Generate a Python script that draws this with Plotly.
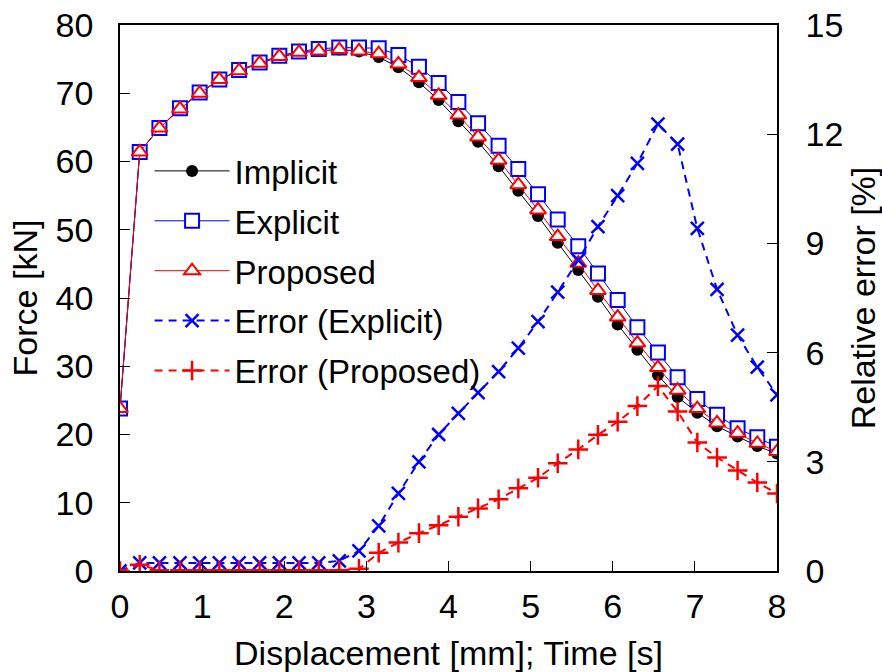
import plotly.graph_objects as go

# Displacement [mm]; Time [s]
x_vals = [0.00, 0.24, 0.48, 0.73, 0.97, 1.21, 1.45, 1.70, 1.94, 2.18, 2.42, 2.67,
          2.91, 3.15, 3.39, 3.64, 3.88, 4.12, 4.36, 4.61, 4.85, 5.09, 5.33, 5.58,
          5.82, 6.06, 6.30, 6.55, 6.79, 7.03, 7.27, 7.52, 7.76, 8.00]

# Force [kN]
implicit = [23.8, 61.4, 64.9, 67.7, 70.0, 72.0, 73.3, 74.4, 75.3, 75.9, 76.2, 76.4,
            76.1, 75.3, 73.8, 71.6, 69.0, 65.9, 62.9, 59.3, 55.7, 52.0, 48.1, 44.1,
            40.2, 36.1, 32.4, 28.7, 25.5, 23.2, 21.2, 19.7, 18.3, 17.2]
explicit = [23.8, 61.4, 64.9, 67.8, 70.1, 72.0, 73.4, 74.5, 75.5, 76.1, 76.5, 76.7,
            76.7, 76.6, 75.6, 73.9, 71.5, 68.7, 65.6, 62.3, 58.9, 55.2, 51.5, 47.6,
            43.6, 39.7, 35.7, 32.0, 28.4, 25.2, 22.9, 20.9, 19.6, 18.2]
proposed = [23.8, 61.4, 64.9, 67.7, 70.0, 72.0, 73.3, 74.4, 75.4, 76.0, 76.2, 76.4,
            76.2, 75.8, 74.3, 72.3, 69.7, 66.8, 63.6, 60.2, 56.6, 52.9, 49.0, 45.1,
            41.1, 37.2, 33.4, 29.8, 26.5, 23.8, 21.7, 20.2, 18.7, 17.5]

# Relative error [%]
err_explicit = [0.0, 0.22, 0.22, 0.22, 0.22, 0.22, 0.22, 0.22, 0.22, 0.22, 0.22, 0.28,
                0.55, 1.24, 2.13, 3.00, 3.75, 4.33, 4.90, 5.48, 6.12, 6.85, 7.66, 8.54,
                9.46, 10.31, 11.20, 12.28, 11.73, 9.41, 7.74, 6.48, 5.60, 4.84]
err_proposed = [0.0, 0.17, 0.02, 0.02, 0.02, 0.02, 0.02, 0.02, 0.02, 0.02, 0.02, 0.02,
                0.06, 0.50, 0.78, 1.04, 1.26, 1.49, 1.72, 1.97, 2.27, 2.56, 2.96, 3.34,
                3.74, 4.10, 4.53, 5.08, 4.38, 3.53, 3.12, 2.76, 2.43, 2.13]

x_ticks = [0, 1, 2, 3, 4, 5, 6, 7, 8]
y_ticks = [0, 10, 20, 30, 40, 50, 60, 70, 80]
y2_ticks = [0, 3, 6, 9, 12, 15]

FONT = "Liberation Sans, Arial, sans-serif"
FS = 34

fig = go.Figure()

fig.add_trace(go.Scatter(
    x=x_vals, y=implicit, name="Implicit", mode="lines+markers",
    line=dict(color="black", width=1),
    marker=dict(symbol="circle", size=12, color="black"),
    legendgroup="a"))
fig.add_trace(go.Scatter(
    x=x_vals, y=explicit, name="Explicit", mode="lines+markers",
    line=dict(color="#0000ff", width=1),
    marker=dict(symbol="square", size=14, color="white",
                line=dict(color="#0000ff", width=2)),
    legendgroup="b"))
fig.add_trace(go.Scatter(
    x=x_vals, y=proposed, name="Proposed", mode="lines+markers",
    line=dict(color="#ff0000", width=1),
    marker=dict(symbol="triangle-up", size=14, color="white",
                line=dict(color="#ff0000", width=2)),
    legendgroup="c"))
fig.add_trace(go.Scatter(
    x=x_vals, y=err_explicit, name="Error (Explicit)", mode="lines+markers",
    yaxis="y2",
    line=dict(color="#0000ff", width=2, dash="8px,6px"),
    marker=dict(symbol="x-thin", size=13, color="#0000ff",
                line=dict(color="#0000ff", width=2.5)),
    legendgroup="d"))
fig.add_trace(go.Scatter(
    x=x_vals, y=err_proposed, name="Error (Proposed)", mode="lines+markers",
    yaxis="y2",
    line=dict(color="#ff0000", width=2, dash="8px,6px"),
    marker=dict(symbol="cross-thin", size=14, color="#ff0000",
                line=dict(color="#ff0000", width=2.5)),
    legendgroup="e"))

axis_common = dict(
    showgrid=False, zeroline=False, showline=True, linecolor="black", linewidth=1.5,
    ticks="inside", ticklen=10, tickwidth=1, tickcolor="black", automargin=False,
    tickfont=dict(family=FONT, size=FS, color="black"),
)

fig.update_layout(
    width=882, height=672,
    margin=dict(l=120, r=105, t=25, b=101),
    paper_bgcolor="white", plot_bgcolor="white",
    font=dict(family=FONT, size=FS, color="black"),
    xaxis=dict(range=[0, 8], tickvals=x_ticks, mirror=True,
               title=dict(text="Displacement [mm]; Time [s]", standoff=18,
                          font=dict(family=FONT, size=FS)),
               ticklabelstandoff=4, **axis_common),
    yaxis=dict(range=[0, 80], tickvals=y_ticks,
               title=dict(text="Force [kN]", standoff=8,
                          font=dict(family=FONT, size=FS)),
               ticklabelstandoff=18, **axis_common),
    yaxis2=dict(range=[0, 15], tickvals=y2_ticks, overlaying="y", side="right",
                title=dict(text="Relative error [%]", standoff=12,
                           font=dict(family=FONT, size=FS)),
                ticklabelstandoff=20, **axis_common),
    legend=dict(x=0.045, y=0.784, xanchor="left", yanchor="top",
                bgcolor="rgba(0,0,0,0)", borderwidth=0,
                font=dict(family=FONT, size=FS - 1, color="black"),
                traceorder="grouped", tracegroupgap=4, itemwidth=75),
    showlegend=True,
)

fig.write_html("out.html")
